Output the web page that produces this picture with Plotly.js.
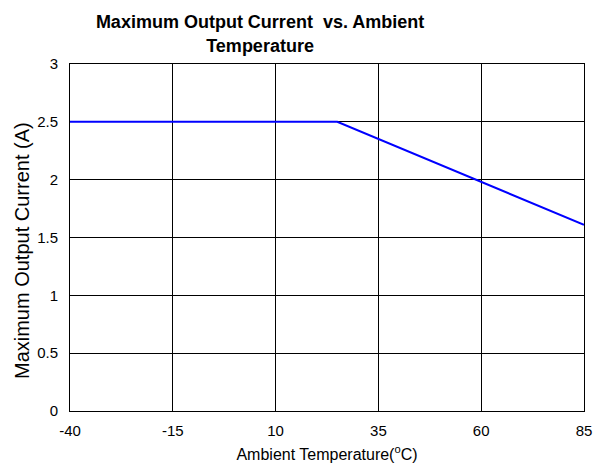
<!DOCTYPE html>
<html>
<head>
<meta charset="utf-8">
<script src="https://cdn.plot.ly/plotly-3.0.1.min.js"></script>
<style>html,body{margin:0;padding:0;background:#fff;}#chart{width:602px;height:472px;}</style>
</head>
<body>
<div id="chart"></div>
<script>
var temperature = [-40, 25, 85];
var maxCurrent = [2.5, 2.5, 1.61];
var xTicks = [-40, -15, 10, 35, 60, 85];
var yTicks = [0, 0.5, 1, 1.5, 2, 2.5, 3];

var trace = {
  x: temperature,
  y: maxCurrent,
  mode: 'lines',
  line: {color: '#0000ff', width: 2},
  hoverinfo: 'skip'
};

var layout = {
  width: 602,
  height: 472,
  margin: {l: 70, r: 18, t: 64, b: 61},
  paper_bgcolor: '#fff',
  plot_bgcolor: '#fff',
  font: {family: 'Liberation Sans, Arial, sans-serif', size: 15, color: '#000'},
  showlegend: false,
  title: {
    text: 'Maximum Output Current  vs. Ambient<br>Temperature',
    font: {family: 'Liberation Sans, Arial, sans-serif', size: 18, color: '#000', weight: 'bold'},
    x: 0.432, xref: 'container', xanchor: 'center',
    y: 0.94, yref: 'container', yanchor: 'top'
  },
  xaxis: {
    range: [-40, 85],
    tickmode: 'array',
    tickvals: xTicks,
    ticktext: xTicks.map(String),
    showgrid: true, gridcolor: '#000', gridwidth: 1,
    zeroline: false,
    showline: true, linecolor: '#000', linewidth: 1, mirror: true,
    ticks: '', ticklen: 0,
    ticklabelstandoff: 6,
    title: {text: 'Ambient Temperature(<sup>o</sup>C)', font: {size: 16}, standoff: 10},
    tickfont: {size: 15}
  },
  yaxis: {
    range: [0, 3],
    tickmode: 'array',
    tickvals: yTicks,
    ticktext: yTicks.map(String),
    showgrid: true, gridcolor: '#000', gridwidth: 1,
    zeroline: false,
    showline: true, linecolor: '#000', linewidth: 1, mirror: true,
    ticks: '', ticklen: 0,
    ticklabelstandoff: 8,
    tickfont: {size: 15}
  },
  annotations: [{
    text: 'Maximum Output Current (A)',
    textangle: -90,
    xref: 'paper', x: 0, xanchor: 'center', xshift: -48,
    yref: 'paper', y: 0.461, yanchor: 'middle',
    showarrow: false,
    font: {size: 20, color: '#000'}
  }]
};

Plotly.newPlot('chart', [trace], layout, {displayModeBar: false, staticPlot: true});
</script>
</body>
</html>
